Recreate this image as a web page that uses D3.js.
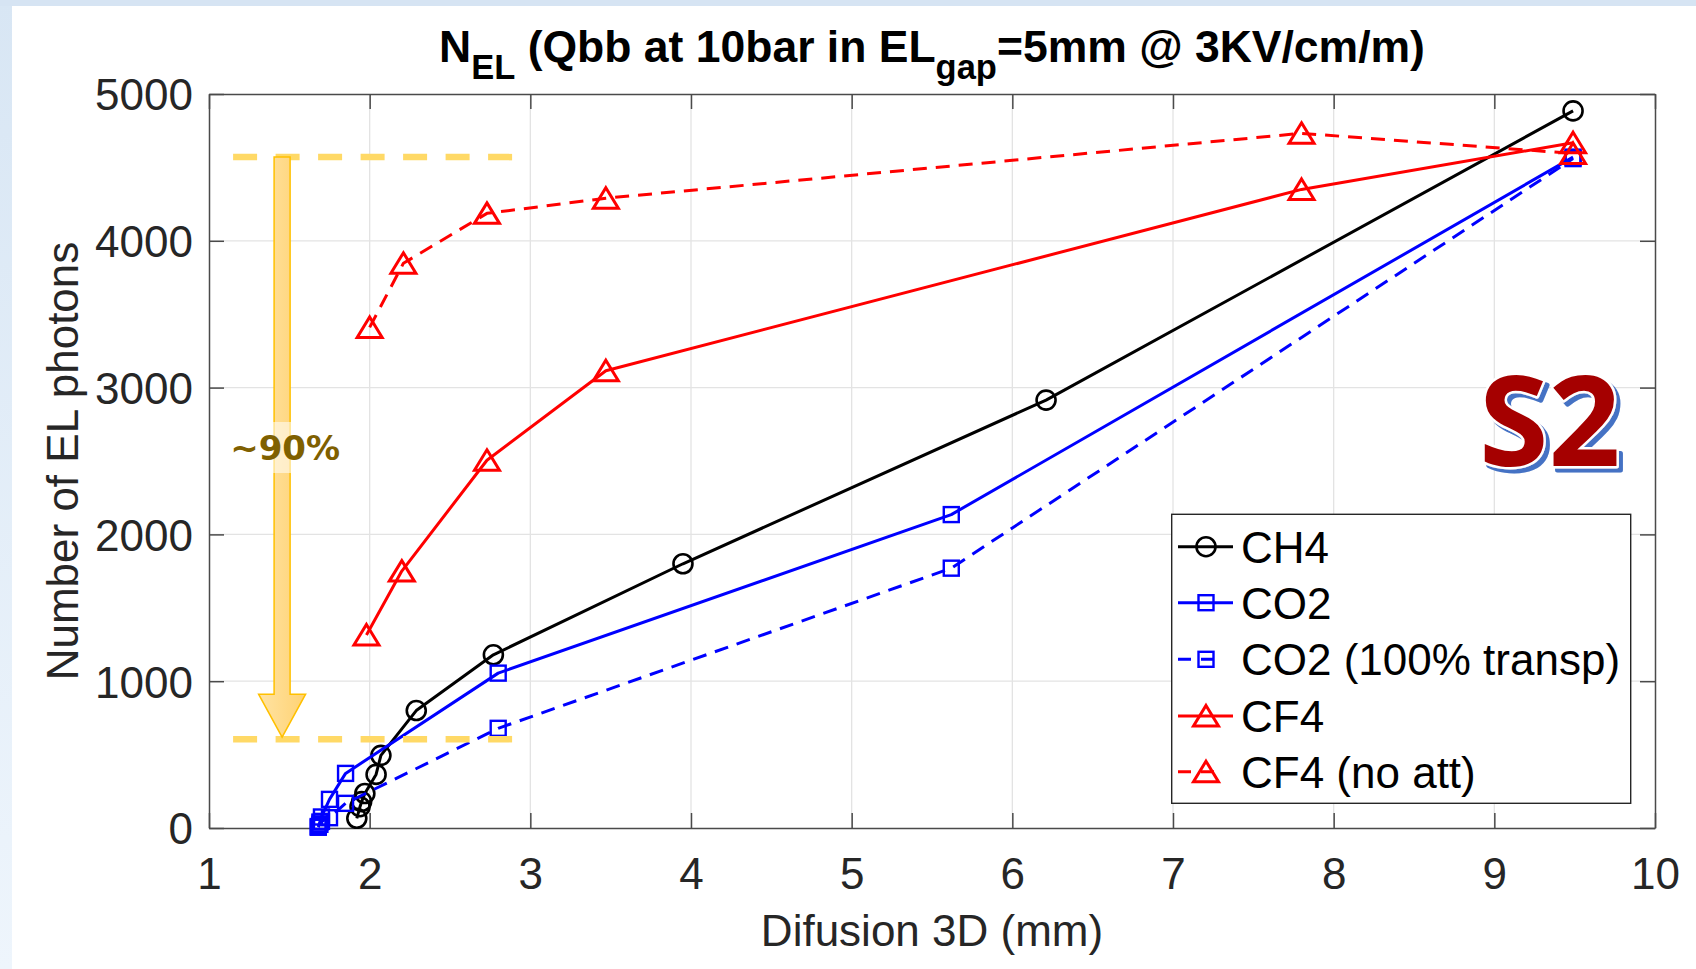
<!DOCTYPE html>
<html><head><meta charset="utf-8">
<script src="https://cdn.jsdelivr.net/npm/d3@7"></script>
<style>html,body{margin:0;padding:0;background:#fff;} svg{display:block}</style>
</head><body>
<svg id="c" width="1696" height="969"></svg>
<script>
// ---- data ----
const xTicks = [1,2,3,4,5,6,7,8,9,10];
const yTicks = [0,1000,2000,3000,4000,5000];
const seriesNames = ["CH4","CO2","CO2 (100% transp)","CF4","CF4 (no att)"];
const ch4X  = [1.92,1.94,1.95,1.97,2.04,2.07,2.29,2.77,3.95,6.21,9.49];
const ch4Y  = [66,145,180,235,365,495,800,1180,1800,2915,4885];
const co2X  = [1.68,1.69,1.70,1.75,1.85,2.80,5.62,9.49];
const co2Y  = [10,40,75,195,372,1055,2135,4570];
const co2tX = [1.68,1.69,1.70,1.75,1.85,2.80,5.62,9.49];
const co2tY = [5,25,45,70,168,679,1770,4560];
const cf4X  = [1.98,2.20,2.73,3.47,7.80,9.49];
const cf4Y  = [1315,1750,2505,3115,4350,4668];
const cf4nX = [2.00,2.21,2.73,3.47,7.80,9.49];
const cf4nY = [3410,3847,4187,4290,4732,4595];
// annotation values (data units)
const bandTop = 4570, bandBottom = 605, bandX0 = 1.15, bandX1 = 2.89, arrowX = 1.455;

const svg = d3.select("#c");
const W = 1696, H = 969;
const m = {l:209, r:1655, t:94, b:828};
const x = d3.scaleLinear().domain([1,10]).range([m.l, m.r]);
const y = d3.scaleLinear().domain([0,5000]).range([m.b, m.t]);

// slide frame
const defs = svg.append("defs");
const lg = defs.append("linearGradient").attr("id","fr").attr("x1",0).attr("y1",0).attr("x2",0).attr("y2",1);
lg.append("stop").attr("offset","0").attr("stop-color","#d8e6f4");
lg.append("stop").attr("offset","1").attr("stop-color","#eef5fc");
svg.append("rect").attr("x",0).attr("y",0).attr("width",W).attr("height",H).attr("fill","#fff");
svg.append("rect").attr("x",0).attr("y",0).attr("width",12).attr("height",H).attr("fill","url(#fr)");
svg.append("rect").attr("x",0).attr("y",0).attr("width",W).attr("height",6).attr("fill","#d6e4f3");

const FONT = "'Liberation Sans', Arial, sans-serif";

// grid
const g = svg.append("g");
g.selectAll(".gx").data(xTicks.slice(1,-1)).join("line")
  .attr("x1",d=>x(d)).attr("x2",d=>x(d)).attr("y1",m.t).attr("y2",m.b)
  .attr("stroke","#e3e3e3").attr("stroke-width",1.3);
g.selectAll(".gy").data(yTicks.slice(1,-1)).join("line")
  .attr("y1",d=>y(d)).attr("y2",d=>y(d)).attr("x1",m.l).attr("x2",m.r)
  .attr("stroke","#e3e3e3").attr("stroke-width",1.3);

// axes with inner ticks
const axCol = "#4a4a4a";
const xb = svg.append("g").attr("transform",`translate(0,${m.b})`)
  .call(d3.axisBottom(x).tickValues(xTicks).tickSizeInner(-15).tickSizeOuter(0).tickPadding(39).tickFormat(d3.format("d")));
const xt = svg.append("g").attr("transform",`translate(0,${m.t})`)
  .call(d3.axisTop(x).tickValues(xTicks).tickSizeInner(-15).tickSizeOuter(0).tickFormat(""));
const yl = svg.append("g").attr("transform",`translate(${m.l},0)`)
  .call(d3.axisLeft(y).tickValues(yTicks).tickSizeInner(-15).tickSizeOuter(0).tickPadding(16).tickFormat(d3.format("d")));
const yr = svg.append("g").attr("transform",`translate(${m.r},0)`)
  .call(d3.axisRight(y).tickValues(yTicks).tickSizeInner(-15).tickSizeOuter(0).tickFormat(""));
[xb,xt,yl,yr].forEach(a=>{
  a.select(".domain").attr("stroke",axCol).attr("stroke-width",1.5);
  a.selectAll(".tick line").attr("stroke",axCol).attr("stroke-width",1.5);
  a.selectAll("text").attr("font-family",FONT).attr("font-size",44).attr("fill","#262626");
});
xb.selectAll("text").attr("dy","0.5em");
yl.selectAll("text").attr("dy","0.36em");

// axis labels
svg.append("text").attr("x",(m.l+m.r)/2).attr("y",946).attr("text-anchor","middle")
  .attr("font-family",FONT).attr("font-size",44).attr("fill","#262626").text("Difusion 3D (mm)");
svg.append("text").attr("transform",`translate(78,${(m.t+m.b)/2}) rotate(-90)`).attr("text-anchor","middle")
  .attr("font-family",FONT).attr("font-size",44).attr("fill","#262626").text("Number of EL photons");

// title
const tt = svg.append("text").attr("x",(m.l+m.r)/2).attr("y",62).attr("text-anchor","middle")
  .attr("font-family",FONT).attr("font-size",44.5).attr("font-weight","bold").attr("fill","#000");
tt.append("tspan").text("N");
tt.append("tspan").attr("font-size",34.5).attr("dy",17).text("EL");
tt.append("tspan").attr("dy",-17).text(" (Qbb at 10bar in EL");
tt.append("tspan").attr("font-size",34.5).attr("dy",17).text("gap");
tt.append("tspan").attr("dy",-17).text("=5mm @ 3KV/cm/m)");

// series
const series = [
  {name:seriesNames[0], xs:ch4X,  ys:ch4Y,  color:"#000000", dash:null, mk:"circle"},
  {name:seriesNames[1], xs:co2X,  ys:co2Y,  color:"#0000ff", dash:null, mk:"square"},
  {name:seriesNames[2], xs:co2tX, ys:co2tY, color:"#0000ff", dash:"14 9", mk:"square"},
  {name:seriesNames[3], xs:cf4X,  ys:cf4Y,  color:"#ff0000", dash:null, mk:"tri"},
  {name:seriesNames[4], xs:cf4nX, ys:cf4nY, color:"#ff0000", dash:"14 9", mk:"tri"}
];
function marker(sel, type, color){
  if(type==="circle"){
    sel.append("circle").attr("r",9.5).attr("fill","none").attr("stroke",color).attr("stroke-width",2.6);
  } else if(type==="square"){
    sel.append("rect").attr("x",-7.5).attr("y",-7.5).attr("width",15).attr("height",15)
      .attr("fill","none").attr("stroke",color).attr("stroke-width",2.4);
  } else {
    sel.append("path").attr("d","M0,-10.5L12.5,10L-12.5,10Z").attr("fill","none")
      .attr("stroke",color).attr("stroke-width",3).attr("stroke-linejoin","miter");
  }
}
const line = d3.line().x(d=>x(d[0])).y(d=>y(d[1]));
const pg = svg.append("g");
series.forEach(s=>{
  const pts = s.xs.map((v,i)=>[v,s.ys[i]]);
  const gg = pg.append("g");
  gg.append("path").attr("d",line(pts)).attr("fill","none").attr("stroke",s.color)
    .attr("stroke-width",3).attr("stroke-dasharray",s.dash).attr("stroke-linejoin","round");
  pts.forEach(p=>{
    marker(gg.append("g").attr("transform",`translate(${x(p[0])},${y(p[1])})`), s.mk, s.color);
  });
});

// legend
const lgX = 1171.7, lgY = 514.3, lgW = 459, lgH = 289;
const leg = svg.append("g");
leg.append("rect").attr("x",lgX).attr("y",lgY).attr("width",lgW).attr("height",lgH)
  .attr("fill","#fff").attr("stroke","#262626").attr("stroke-width",1.4);
const rowY = [546.7,602.7,659.3,716,771.7];
series.forEach((s,i)=>{
  const r = leg.append("g").attr("transform",`translate(0,${rowY[i]})`);
  r.append("line").attr("x1",1178).attr("x2",s.dash?1224:1233).attr("y1",0).attr("y2",0)
    .attr("stroke",s.color).attr("stroke-width",3).attr("stroke-dasharray",s.dash? "13 10":null);
  marker(r.append("g").attr("transform","translate(1206,0)"), s.mk, s.color);
  r.append("text").attr("x",1241).attr("y",0).attr("dy","0.36em").attr("font-family",FONT)
    .attr("font-size",44).attr("fill","#000").text(s.name);
});

// yellow annotation
const ann = svg.append("g");
[bandTop, bandBottom].forEach(v=>{
  ann.append("line").attr("x1",x(bandX0)).attr("x2",x(bandX1)).attr("y1",y(v)).attr("y2",y(v))
    .attr("stroke","#ffd966").attr("stroke-width",6.5).attr("stroke-dasharray","24 18.5");
});
const ax = x(arrowX), ay0 = y(bandTop), ay1 = y(bandBottom)-2;
const ag = defs.append("linearGradient").attr("id","ar").attr("x1",0).attr("y1",0).attr("x2",1).attr("y2",0);
ag.append("stop").attr("offset","0").attr("stop-color","#ffe3a3");
ag.append("stop").attr("offset","1").attr("stop-color","#ffd273");
ann.append("path").attr("d",
  `M${ax-8},${ay0} L${ax+8},${ay0} L${ax+8},${ay1-43} L${ax+23.5},${ay1-43} L${ax},${ay1} L${ax-23.5},${ay1-43} L${ax-8},${ay1-43} Z`)
  .attr("fill","url(#ar)").attr("stroke","#ffc000").attr("stroke-width",1.5);
ann.append("rect").attr("x",ax-52).attr("y",422).attr("width",112).attr("height",51)
  .attr("fill","#fff").attr("opacity",0.55);
ann.append("text").attr("x",ax+3).attr("y",448).attr("dy","0.36em").attr("text-anchor","middle")
  .attr("font-family","'DejaVu Sans', Verdana, sans-serif").attr("font-weight","bold")
  .attr("font-size",34).attr("fill","#7f6000").text("~90%");

// S2 badge: single text, white outline via paint-order, blue drop shadow via filter
const fl = defs.append("filter").attr("id","sh").attr("x","-20%").attr("y","-20%").attr("width","140%").attr("height","140%");
fl.append("feFlood").attr("flood-color","#4472c4").attr("result","c");
fl.append("feOffset").attr("in","SourceAlpha").attr("dx",4).attr("dy",4).attr("result","o");
fl.append("feComposite").attr("in","c").attr("in2","o").attr("operator","in").attr("result","s");
const fm = fl.append("feMerge");
fm.append("feMergeNode").attr("in","s");
fm.append("feMergeNode").attr("in","SourceGraphic");
svg.append("text").attr("x",1479).attr("y",466)
  .attr("font-family","'Open Sans', sans-serif").attr("font-weight","bold").attr("font-size",126)
  .attr("fill","#a50000").attr("stroke","#fff").attr("stroke-width",5).attr("stroke-linejoin","round")
  .attr("paint-order","stroke").attr("filter","url(#sh)").text("S2");
</script>
</body></html>
